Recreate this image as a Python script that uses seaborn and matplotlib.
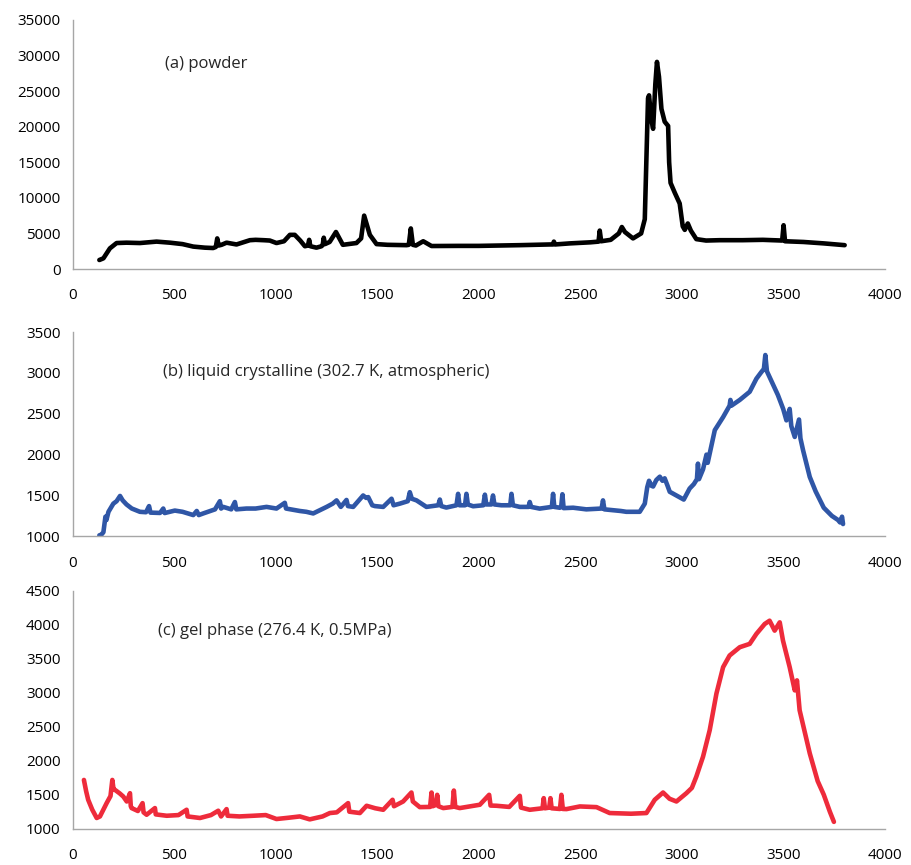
import numpy as np
import pandas as pd
import matplotlib
matplotlib.use("Agg")
import matplotlib.pyplot as plt
import seaborn as sns

# (a) powder
powder_x = [130, 150, 182, 215, 264, 330, 412, 478, 540, 593, 650, 691, 704, 711, 718,
            732, 757, 806, 872, 900, 940, 970, 1003, 1040, 1069, 1093, 1120, 1143, 1158,
            1164, 1170, 1200, 1225, 1231, 1236, 1242, 1265, 1296, 1330, 1397, 1420, 1435,
            1463, 1496, 1550, 1644, 1655, 1665, 1675, 1690, 1726, 1767, 1900, 2000, 2100,
            2200, 2350, 2365, 2370, 2376, 2448, 2550, 2590, 2596, 2603, 2650, 2690, 2705,
            2720, 2760, 2800, 2818, 2834, 2839, 2850, 2859, 2870, 2878, 2888, 2900, 2916,
            2933, 2938, 2945, 2966, 2990, 3005, 3015, 3030, 3045, 3072, 3120, 3187, 3300,
            3400, 3495, 3502, 3509, 3600, 3700, 3803]
powder_y = [1265, 1500, 2900, 3650, 3700, 3650, 3850, 3700, 3500, 3150, 3000, 2950, 3100, 4300, 3300,
            3400, 3700, 3450, 4050, 4100, 4050, 4000, 3650, 3900, 4800, 4800, 4000, 3200, 3300,
            4100, 3200, 3000, 3200, 3400, 4400, 3500, 3800, 5200, 3400, 3650, 4300, 7500,
            4800, 3500, 3400, 3350, 3400, 5700, 3400, 3300, 3900, 3230, 3250, 3250, 3300,
            3350, 3450, 3450, 3850, 3450, 3600, 3750, 3850, 5400, 3900, 4100, 5000, 5900,
            5200, 4300, 5000, 7000, 24000, 24400, 21000, 19700, 26000, 29100, 27000, 22500, 20700,
            20100, 15000, 12100, 10700, 9200, 6000, 5500, 6400, 5400, 4200, 4000, 4050, 4050,
            4100, 4000, 6150, 3900, 3800, 3600, 3350]

# (b) liquid crystalline
lc_x = [130, 140, 150, 160, 165, 175, 199, 215, 232, 245, 264, 290, 330, 360, 375, 382, 429,
        445, 452, 502, 540, 593, 610, 620, 642, 700, 724, 730, 741, 780, 798, 805, 855, 900,
        954, 1003, 1044, 1050, 1118, 1150, 1184, 1250, 1280, 1299, 1320, 1348, 1355, 1381,
        1430, 1445, 1455, 1475, 1488, 1529, 1570, 1580, 1611, 1650, 1660, 1670, 1693, 1742,
        1800, 1808, 1815, 1840, 1890, 1898, 1905, 1932, 1939, 1946, 1972, 2022, 2030, 2037,
        2062, 2070, 2077, 2111, 2155, 2161, 2168, 2202, 2245, 2251, 2258, 2300, 2360, 2366,
        2372, 2399, 2406, 2412, 2418, 2465, 2530, 2605, 2612, 2619, 2700, 2727, 2793, 2818,
        2830, 2839, 2850, 2859, 2875, 2892, 2905, 2916, 2930, 2941, 2974, 3010, 3025, 3039,
        3060, 3075, 3080, 3085, 3105, 3122, 3128, 3163, 3204, 3236, 3240, 3245, 3286, 3335,
        3368, 3392, 3405, 3412, 3420, 3433, 3474, 3500, 3516, 3532, 3540, 3557, 3578, 3585,
        3598, 3631, 3660, 3700, 3740, 3770, 3780, 3790, 3795]
lc_y = [1012, 1020, 1050, 1240, 1200, 1300, 1400, 1430, 1494, 1440, 1390, 1340, 1300, 1295, 1370, 1290, 1286,
        1340, 1285, 1315, 1300, 1260, 1310, 1260, 1280, 1330, 1430, 1340, 1360, 1330, 1420, 1330, 1340, 1340,
        1360, 1340, 1410, 1340, 1310, 1300, 1280, 1360, 1400, 1440, 1360, 1445, 1370, 1360,
        1500, 1470, 1480, 1380, 1370, 1360, 1460, 1380, 1400, 1430, 1540, 1460, 1440, 1360,
        1380, 1450, 1370, 1352, 1380, 1520, 1380, 1380, 1520, 1390, 1368, 1380, 1510, 1390,
        1390, 1500, 1390, 1380, 1380, 1520, 1380, 1360, 1360, 1420, 1360, 1339, 1360, 1520,
        1360, 1350, 1360, 1515, 1345, 1350, 1330, 1340, 1440, 1330, 1310, 1300, 1300, 1400,
        1600, 1680, 1620, 1610, 1690, 1730, 1680, 1710, 1620, 1545, 1500, 1450, 1520, 1585,
        1640, 1700, 1890, 1700, 1820, 2000, 1900, 2300, 2460, 2600, 2670, 2600, 2670, 2770,
        2930, 3010, 3050, 3220, 3020, 2950, 2730, 2560, 2420, 2560, 2350, 2217, 2430, 2200,
        2054, 1727, 1550, 1350, 1250, 1200, 1170, 1240, 1150]

# (c) gel phase
gel_x = [54, 65, 75, 95, 117, 133, 166, 185, 194, 200, 207, 230, 248, 265, 281, 285, 289, 320,
         343, 348, 363, 404, 408, 462, 520, 560, 565, 626, 680, 716, 730, 757, 762, 820, 888,
         950, 1003, 1060, 1118, 1167, 1230, 1266, 1300, 1356, 1362, 1414, 1447, 1490, 1529,
         1575, 1582, 1627, 1668, 1675, 1709, 1760, 1767, 1773, 1789, 1795, 1801, 1825, 1870,
         1877, 1884, 1906, 2005, 2051, 2058, 2087, 2150, 2202, 2208, 2251, 2314, 2320, 2326,
         2347, 2353, 2359, 2400, 2407, 2414, 2432, 2498, 2580, 2645, 2750, 2826, 2867, 2908,
         2940, 2974, 3023, 3050, 3072, 3105, 3138, 3171, 3204, 3236, 3286, 3335, 3368, 3409,
         3433, 3458, 3483, 3499, 3532, 3557, 3568, 3581, 3631, 3670, 3700, 3730, 3750]
gel_y = [1717, 1550, 1425, 1280, 1157, 1180, 1376, 1480, 1717, 1580, 1571, 1520, 1473, 1400, 1522, 1330, 1303, 1260,
         1376, 1240, 1205, 1303, 1210, 1190, 1200, 1278, 1180, 1157, 1200, 1264, 1180, 1288, 1190, 1180, 1190,
         1200, 1142, 1160, 1180, 1137, 1180, 1230, 1240, 1376, 1250, 1230, 1337, 1300, 1278,
         1425, 1330, 1400, 1532, 1400, 1317, 1320, 1532, 1330, 1350, 1498, 1330, 1303, 1320,
         1561, 1320, 1303, 1352, 1498, 1340, 1337, 1320, 1483, 1310, 1278, 1300, 1449, 1300,
         1310, 1449, 1300, 1290, 1498, 1290, 1288, 1327, 1317, 1230, 1220, 1230, 1425, 1532,
         1440, 1400, 1522, 1600, 1766, 2059, 2450, 2987, 3377, 3548, 3670, 3719, 3866, 4012,
         4060, 3914, 4036, 3768, 3377, 3035, 3182, 2743, 2108, 1700, 1500, 1250, 1100]

labels = ["(a) powder", "(b) liquid crystalline (302.7 K, atmospheric)", "(c) gel phase (276.4 K, 0.5MPa)"]
colors = ["#000000", "#2F56A6", "#EE2B3B"]
ylims = [(0, 35000), (1000, 3500), (1000, 4500)]
ysteps = [5000, 500, 500]

sns.set_style("white")
plt.rcParams["font.family"] = ["Open Sans", "DejaVu Sans"]

fig = plt.figure(figsize=(9.12, 8.65), dpi=100)
boxes = [[0.080, 0.689, 0.890, 0.288],
         [0.080, 0.380, 0.890, 0.236],
         [0.080, 0.042, 0.890, 0.275]]
text_pos = [(0.113, 0.823), (0.111, 0.804), (0.105, 0.832)]
series = [(powder_x, powder_y), (lc_x, lc_y), (gel_x, gel_y)]

for i in range(3):
    ax = fig.add_axes(boxes[i])
    df = pd.DataFrame({"shift": series[i][0], "intensity": series[i][1]})
    sns.lineplot(data=df, x="shift", y="intensity", ax=ax, color=colors[i],
                 linewidth=3.3, estimator=None)
    ax.set_xlim(0, 4000)
    ax.set_ylim(*ylims[i])
    ax.set_xticks(np.arange(0, 4001, 500))
    ax.set_yticks(np.arange(ylims[i][0], ylims[i][1] + 1, ysteps[i]))
    ax.set_xlabel("")
    ax.set_ylabel("")
    for side in ["top", "right"]:
        ax.spines[side].set_visible(False)
    for side in ["left", "bottom"]:
        ax.spines[side].set_color("#A6A6A6")
        ax.spines[side].set_linewidth(1.0)
    ax.tick_params(axis="both", which="major", direction="out", length=5,
                   width=1.0, color="#A6A6A6", labelsize=11, labelcolor="#000000")
    ax.tick_params(axis="x", pad=9)
    ax.tick_params(axis="y", pad=4)
    ax.text(text_pos[i][0], text_pos[i][1], labels[i], transform=ax.transAxes,
            fontsize=12, ha="left", va="center")

fig.savefig("out.png", dpi=100)
